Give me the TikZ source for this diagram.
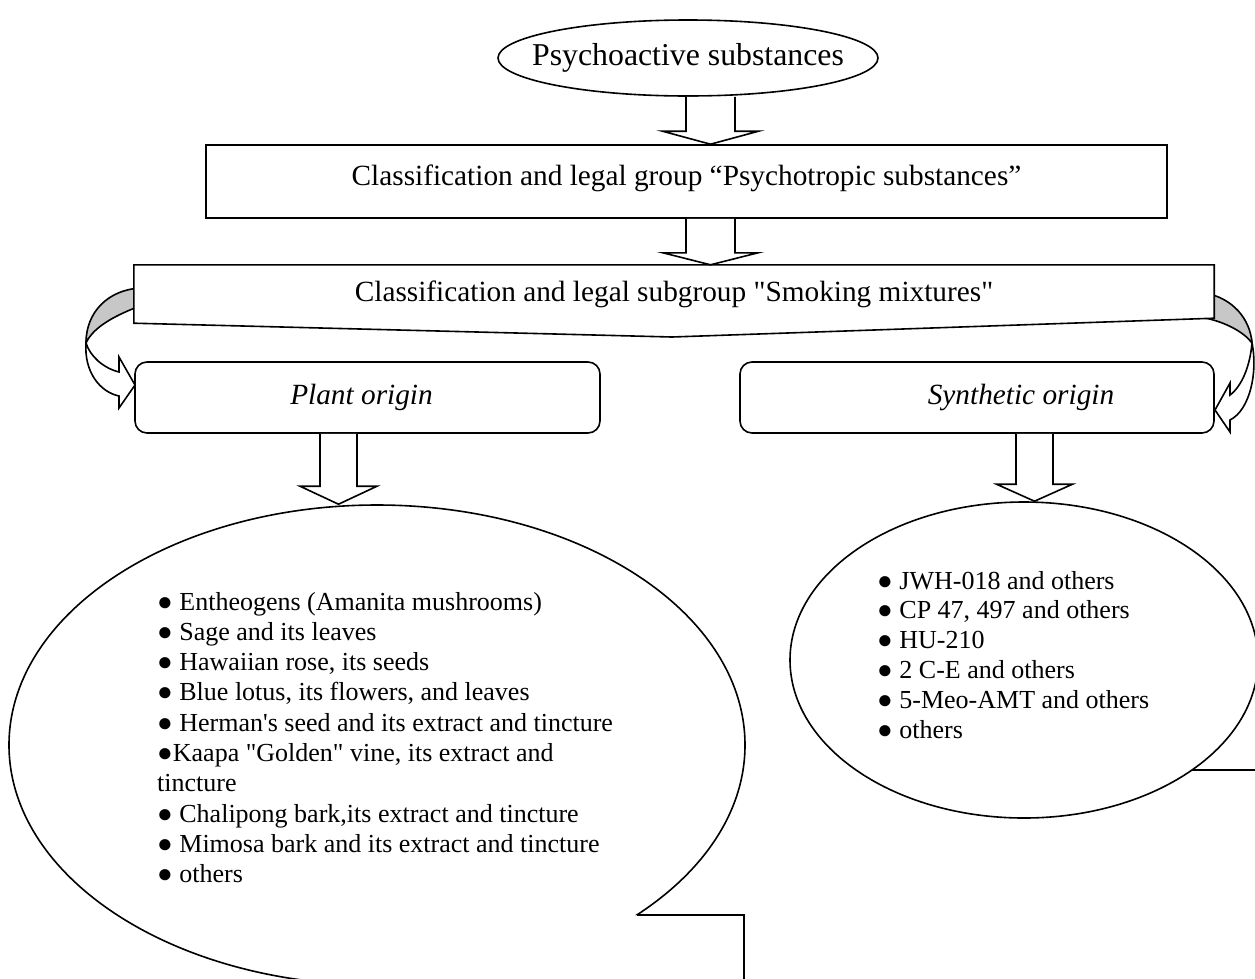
\documentclass[tikz,border=0pt]{standalone}
\usepackage{fontspec}
\setmainfont{Liberation Serif}
\usetikzlibrary{calc,shapes.geometric,backgrounds}
\newcommand{\headfont}{\fontsize{29.3}{34}\selectfont}
\newcommand{\listfont}{\fontsize{26}{30}\selectfont}
\newcommand{\sq}{\textquotedbl}
\tikzset{
  outline/.style={draw=black,line width=1.6pt},
  hbox/.style={outline,fill=white,inner sep=0pt,font=\headfont},
  obox/.style={hbox,rounded corners=12pt,font=\headfont\itshape},
  oval/.style={hbox,ellipse,font=\fontsize{31.8}{36}\selectfont},
  callout/.style={ellipse,inner sep=0pt,outline},
  fat/.style={outline,fill=white,line join=miter},
  fold/.style={outline,fill=black!22},
  item/.style={anchor=base west,inner sep=0pt,font=\listfont}
}
% block arrow: x position, from node, to node, half shaft, half head, head length
\newcommand{\fatarrow}[6]{%
  \draw[fat] let \p1=(#2.south -| #1), \p2=(#3.north -| #1) in
    (\x1-#4pt,\y1) -- (\x1-#4pt,\y2+#6pt) -- (\x1-#5pt,\y2+#6pt) -- (\x1,\y2)
    -- (\x1+#5pt,\y2+#6pt) -- (\x1+#4pt,\y2+#6pt) -- (\x1+#4pt,\y1);}

\begin{document}
\begin{tikzpicture}[x=1pt,y=-1pt]
\useasboundingbox (0,0) rectangle (1255,978);
\clip (0,0) rectangle (1255,978);

% top of the chart
\node[oval,minimum width=380,minimum height=76] (psy) at (688,58) {\makebox[0pt]{Psychoactive substances}};
\node[hbox,minimum width=961,minimum height=73,text depth=13pt] (grp) at (686.5,181.5) {Classification and legal group “Psychotropic substances”};
\node[inner sep=0pt,minimum width=1080,minimum height=58,font=\headfont] (sub) at (674,294) {Classification and legal subgroup \sq Smoking mixtures\sq};
\coordinate (dip) at (672,337);

% the two origins
\node[obox,minimum width=465,minimum height=71] (plant) at (367.5,397.5) {Plant origin\hspace*{12pt}};
\node[obox,minimum width=474,minimum height=71] (synth) at (977,397.5) {\hspace*{88pt}Synthetic origin};

% callouts
\begin{scope}
  \clip (-10,-10) -- (1265,-10) -- (1265,915) -- (380,915) -- (380,990) -- (-10,990) -- cycle;
  \node[callout,minimum width=736,minimum height=480] (plantcall) at (377,745) {};
\end{scope}
\coordinate (pltip) at (744,915);
\draw[outline] (637,915) -- (pltip) -- (744,990);

\node[callout,minimum width=468,minimum height=316] (synthcall) at (1024,660) {};
\coordinate (sytip) at (1265,770);
\draw[outline] (1192,770) -- (sytip);

\foreach \t [count=\i from 0] in {%
  {● Entheogens (Amanita mushrooms)},
  {● Sage and its leaves},
  {● Hawaiian rose, its seeds},
  {● Blue lotus, its flowers, and leaves},
  {● Herman\textquotesingle s seed and its extract and tincture},
  {●Kaapa \sq Golden\sq{} vine, its extract and},
  {tincture},
  {● Chalipong bark,its extract and tincture},
  {● Mimosa bark and its extract and tincture},
  {● others}}
  \node[item] (pl\i) at (157,610+30.3*\i) {\t};

\foreach \t [count=\i from 0] in {%
  {● JWH-018 and others},
  {● CP 47, 497 and others},
  {● HU-210},
  {● 2 C-E and others},
  {● 5-Meo-AMT and others},
  {● others}}
  \node[item] (sy\i) at (877,589+29.8*\i) {\t};

% curled arrows and the subgroup banner, under the nodes
\begin{scope}[on background layer]
  \draw[fold] (86,343) .. controls (86,312) and (108,290) .. (140,288) -- (140,306)
    .. controls (108,318) and (92,330) .. (86,343) -- cycle;
  \draw[fat] (86,343) .. controls (90,356) and (103,368) .. (119,372) -- (119,357)
    -- (135,385) -- (119,408) -- (119,396) .. controls (100,392) and (84,372) .. (86,343) -- cycle;
  \draw[fold] (1252,343) .. controls (1250,318) and (1232,298) .. (1205,293) -- (1205,318)
    .. controls (1225,322) and (1244,332) .. (1252,343) -- cycle;
  \draw[fat] (1252,343) .. controls (1250,366) and (1242,386) .. (1230,395) -- (1230,383)
    -- (1215,410) -- (1230,432) -- (1230,420) .. controls (1250,410) and (1258,372) .. (1252,343) -- cycle;
  \draw[outline,fill=white] (sub.north west) -- (sub.north east) -- ([yshift=5pt]sub.south east)
    -- (dip) -- (sub.south west) -- cycle;
\end{scope}

% block arrows
\coordinate (ax1) at (710.5,0);
\coordinate (ax2) at (338.5,0);
\coordinate (ax3) at (1034.5,0);
\fatarrow{ax1}{psy}{grp}{24.5}{48}{13}
\fatarrow{ax1}{grp}{sub}{24.5}{47.5}{12}
\fatarrow{ax2}{plant}{plantcall}{18.5}{38.5}{18}
\fatarrow{ax3}{synth}{synthcall}{18.5}{38}{17}
\end{tikzpicture}
\end{document}
